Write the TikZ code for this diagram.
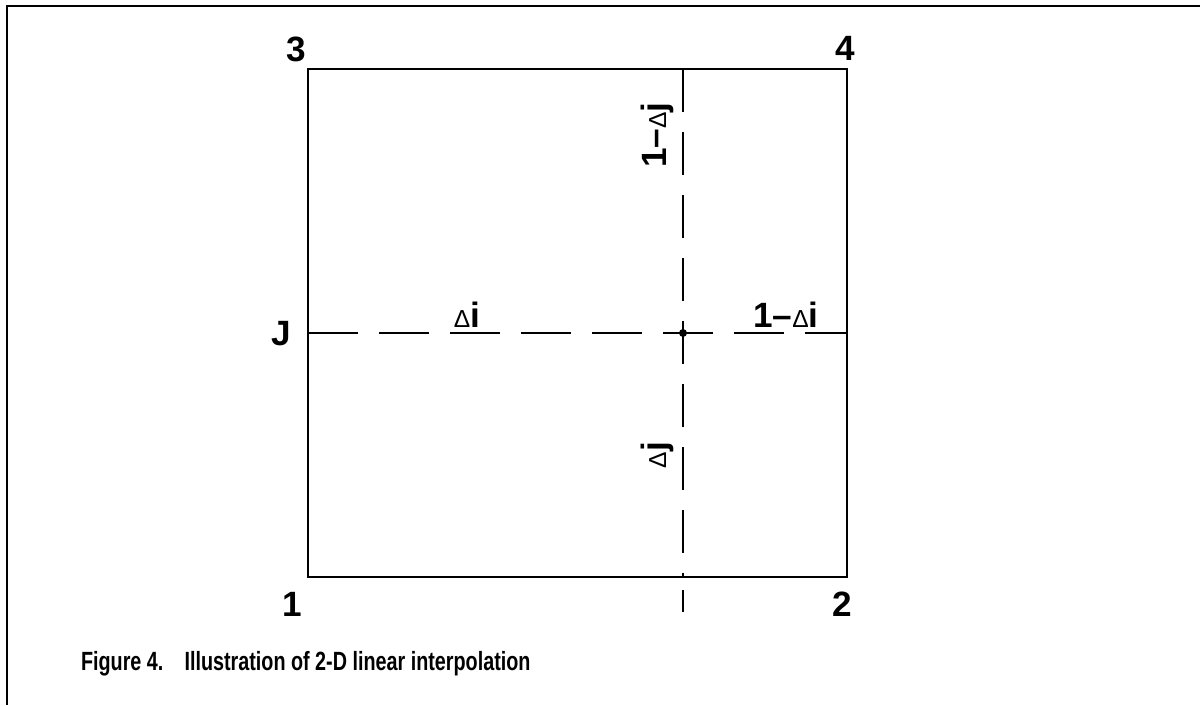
\documentclass[tikz,border=0pt]{standalone}
\usepackage{fontspec}
\setmainfont{Liberation Sans}
\newfontfamily\capfont[FakeStretch=0.75]{Liberation Sans}
\newcommand{\dlt}{{\fontsize{14}{16}\mdseries\selectfont Δ}}
\begin{document}
\begin{tikzpicture}[line width=1.2pt, every node/.style={font=\fontsize{20}{24}\bfseries\selectfont, inner sep=0pt}]
    \useasboundingbox (0,0) rectangle (24,14.1);
    % 枠（上と左のみ）
    \draw[line width=1.1pt] (0.14,0) -- (0.14,13.98) -- (24,13.98);

    % 格子点 1--4 と正方形
    \coordinate (c1) at (6.16,2.56);
    \coordinate (c2) at (16.94,2.56);
    \coordinate (c3) at (6.16,12.72);
    \coordinate (c4) at (16.94,12.72);
    \draw (c1) rectangle (c4);
    \node at (5.92,13.12) {3};
    \node at (16.90,13.14) {4};
    \node at (5.84,2.02) {1};
    \node at (16.84,2.02) {2};

    % 補間点 P と破線
    \coordinate (p) at (13.66,7.44);
    \coordinate (jl) at (6.16,7.44);
    \coordinate (jr) at (16.94,7.44);
    \coordinate (it) at (13.66,12.72);
    \coordinate (ib) at (13.66,2.56);
    \draw[line width=1.5pt, dash pattern=on 1cm off 0.42cm] (jl) -- (jr);
    \draw[line width=1.5pt, dash pattern=on 0.86cm off 0.4cm] (it) -- (ib);
    \coordinate (tk1) at (13.66,2.30);
    \coordinate (tk2) at (13.66,1.86);
    \draw[line width=1.5pt] (tk1) -- (tk2);
    \fill (p) circle (0.08);
    \node at (5.62,7.42) {J};

    % 距離のラベル
    \node at (9.34,7.80) {\dlt i};
    \node at (15.72,7.80) {1–\dlt i};
    \node[rotate=90] at (13.14,11.40) {1–\dlt j};
    \node[rotate=90] at (13.14,5.00) {\dlt j};

    % 図の説明
    \node[anchor=west] at (1.6,0.82) {\capfont\bfseries\fontsize{15}{18}\selectfont Figure 4.\hspace{0.8em}Illustration of 2-D linear interpolation};
  \end{tikzpicture}
\end{document}
